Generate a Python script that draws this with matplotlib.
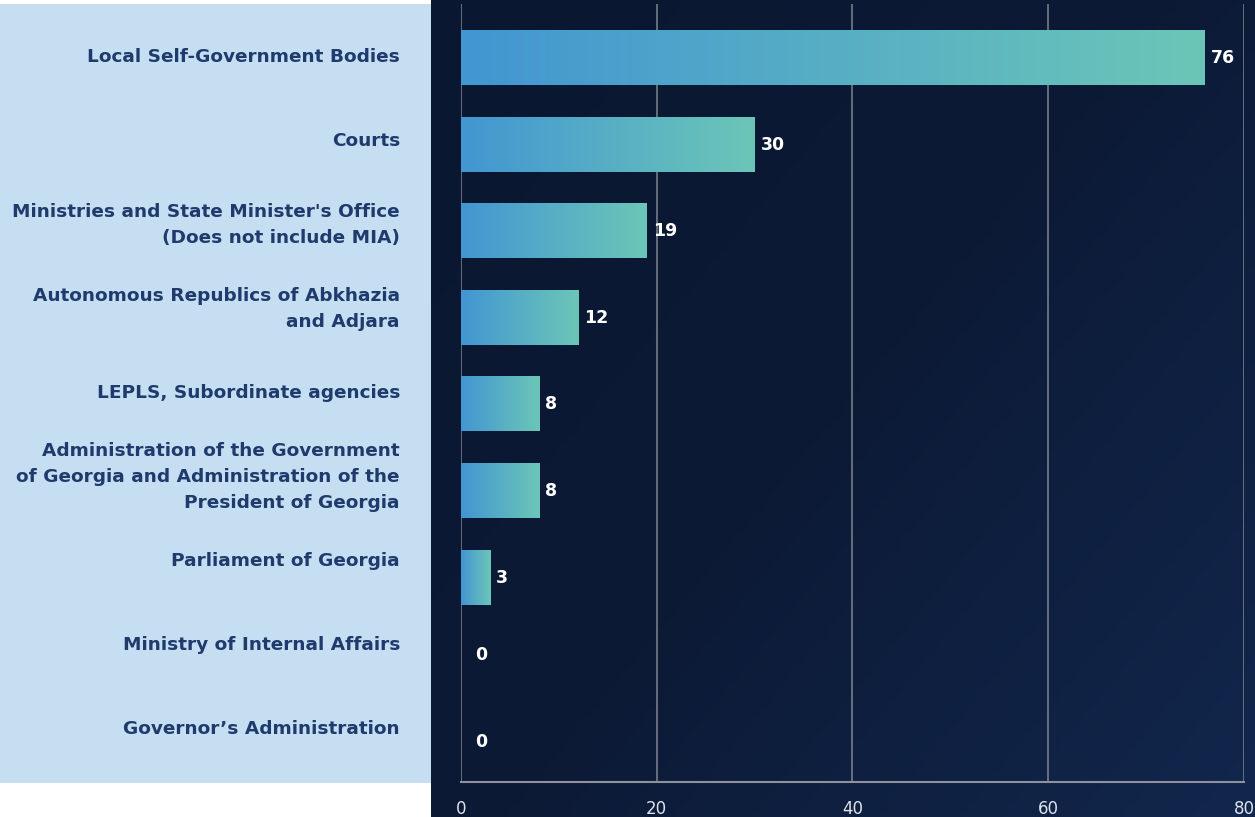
import numpy as np
import matplotlib
matplotlib.use("Agg")
import matplotlib.pyplot as plt
from matplotlib.colors import LinearSegmentedColormap

categories = [
    "Local Self-Government Bodies",
    "Courts",
    "Ministries and State Minister's Office\n(Does not include MIA)",
    "Autonomous Republics of Abkhazia\nand Adjara",
    "LEPLS, Subordinate agencies",
    "Administration of the Government\nof Georgia and Administration of the\nPresident of Georgia",
    "Parliament of Georgia",
    "Ministry of Internal Affairs",
    "Governor’s Administration",
]
values = [76, 30, 19, 12, 8, 8, 3, 0, 0]
xticks = [0, 20, 40, 60, 80]

W, H = 1255, 817
fig = plt.figure(figsize=(W / 100, H / 100), dpi=100)
fig.patch.set_facecolor("white")

# left light panel
panel = fig.add_axes([0, (H - 783) / H, 431 / W, (783 - 4) / H])
panel.set_facecolor("#c6def1")
panel.set_xticks([]); panel.set_yticks([])
for s in panel.spines.values():
    s.set_visible(False)

# dark gradient background
bg = fig.add_axes([431 / W, 0, 1 - 431 / W, 1])
bg.set_axis_off()
nx, ny = 200, 200
xx, yy = np.meshgrid(np.linspace(0, 1, nx), np.linspace(0, 1, ny))
t = np.clip(0.55 * xx + 0.45 * yy, 0, 1)
bg_cmap = LinearSegmentedColormap.from_list("bg", ["#0a1730", "#0c1a36", "#12274d"])
bg.imshow(t, cmap=bg_cmap, aspect="auto", extent=[0, 1, 0, 1], origin="upper", vmin=0, vmax=1)
bg.set_xlim(0, 1); bg.set_ylim(0, 1)

# main axes
ax = fig.add_axes([461 / W, (H - 782) / H, 783 / W, 778 / H])
ax.patch.set_alpha(0)
n = len(categories)
ylo, yhi = 8.362, -0.624
bar_cmap = LinearSegmentedColormap.from_list("bar", ["#4296d2", "#6cc6b7"])
grad = np.linspace(0, 1, 256).reshape(1, -1)
h = 0.625
for i, v in enumerate(values):
    if v > 0:
        ax.imshow(grad, cmap=bar_cmap, aspect="auto",
                  extent=[0, v, i + h / 2, i - h / 2], zorder=3, interpolation="bicubic")
        ax.text(v + 0.6, i, str(v), color="white", fontsize=12.5, fontweight="bold",
                va="center", ha="left", zorder=4)
    else:
        ax.text(v + 1.4, i - 0.105, str(v), color="white", fontsize=12.5, fontweight="bold",
                va="center", ha="left", zorder=4)
ax.set_xlim(0, 80)
ax.set_ylim(ylo, yhi)
ax.set_xticks(xticks)
ax.set_xticklabels([str(x) for x in xticks])
ax.set_yticks([])
ax.tick_params(axis="x", length=0, pad=13, colors="#dfe2e8", labelsize=12)
ax.grid(axis="x", color="#7f8591", linewidth=1.1, zorder=1)
ax.set_axisbelow(True)
for side in ["top", "right", "left"]:
    ax.spines[side].set_visible(False)
ax.spines["bottom"].set_color("#8d929c")
ax.spines["bottom"].set_linewidth(1.5)

# category labels
lab = fig.add_axes([0, (H - 771) / H, 400 / W, 756 / H])
lab.set_axis_off()
lab.set_xlim(0, 1)
lab.set_ylim(n - 0.5, -0.5)
for i, c in enumerate(categories):
    lab.text(1, i, c, ha="right", va="center", fontsize=13.3, fontweight="bold",
             color="#1f3a6c", linespacing=1.55, multialignment="right")

fig.savefig("out.png", dpi=100)
